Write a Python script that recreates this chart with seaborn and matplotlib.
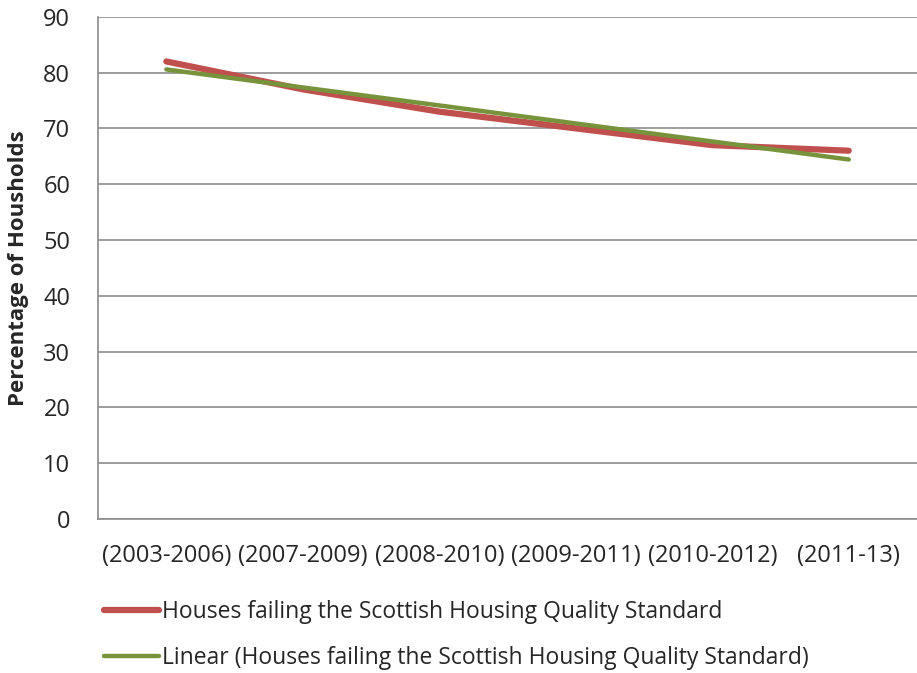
import numpy as np
import pandas as pd
import matplotlib
matplotlib.use('Agg')
import matplotlib.pyplot as plt
from matplotlib.lines import Line2D
import seaborn as sns

# Data
periods = ['(2003-2006)', '(2007-2009)', '(2008-2010)', '(2009-2011)', '(2010-2012)', '(2011-13)']
failing_pct = [82, 77, 73, 70, 67, 66]
series_name = 'Houses failing the Scottish Housing Quality Standard'
trend_name = 'Linear (Houses failing the Scottish Housing Quality Standard)'

RED = '#C0504D'
GREEN = '#77933C'
GRID = '#8C8C8C'

sns.set_style('white')
plt.rcParams['font.family'] = ['Open Sans', 'DejaVu Sans']

# Linear trendline, as Excel fits it
x_idx = np.arange(len(periods))
slope, intercept = np.polyfit(x_idx, failing_pct, 1)
df = pd.DataFrame({
    'x': np.concatenate([x_idx, x_idx]),
    'value': np.concatenate([failing_pct, slope * x_idx + intercept]),
    'series': [series_name] * len(periods) + [trend_name] * len(periods),
})

fig = plt.figure(figsize=(9.17, 6.73), dpi=100)
ax = fig.add_axes([0.107, 0.229, 0.893, 0.746])

sns.lineplot(data=df, x='x', y='value', hue='series',
             palette={series_name: RED, trend_name: GREEN},
             ax=ax, legend=False, estimator=None, sort=False)
ax.lines[0].set_linewidth(4.5)
ax.lines[1].set_linewidth(3.2)
for ln in ax.lines:
    ln.set_solid_capstyle('round')

ax.set_xlim(-0.5, len(periods) - 0.5)
ax.set_ylim(0, 90)
ax.set_yticks(range(0, 91, 10))
ax.set_xticks(x_idx)
ax.set_xticklabels(periods, fontsize=17)
ax.set_xticks(np.arange(-0.5, len(periods), 1.0), minor=True)
ax.tick_params(axis='x', which='major', length=0, pad=18)
ax.tick_params(axis='x', which='minor', length=7, color=GRID, width=1.2, direction='out')
ax.tick_params(axis='y', length=9, color=GRID, width=1.2, direction='out', labelsize=17, pad=11)

ax.yaxis.grid(True, color=GRID, linewidth=1.2)
ax.set_axisbelow(True)
for side in ['top', 'right']:
    ax.spines[side].set_visible(False)
for side in ['left', 'bottom']:
    ax.spines[side].set_color(GRID)
    ax.spines[side].set_linewidth(1.2)

ax.set_xlabel('')
ax.set_ylabel('Percentage of Housholds', fontsize=16, fontweight='bold', va='center')
ax.yaxis.set_label_coords(-0.097, 0.5)

# Legend below the plot
handles = [Line2D([], [], color=RED, linewidth=4.5, solid_capstyle='round'),
           Line2D([], [], color=GREEN, linewidth=3.2, solid_capstyle='round')]
fig.legend(handles, [series_name, trend_name], loc='upper left',
           bbox_to_anchor=(0.113, 0.108), frameon=False, fontsize=16.5,
           handlelength=2.4, handletextpad=0.15, labelspacing=0.95,
           borderaxespad=0, borderpad=0)

fig.savefig('out.png', dpi=100)
